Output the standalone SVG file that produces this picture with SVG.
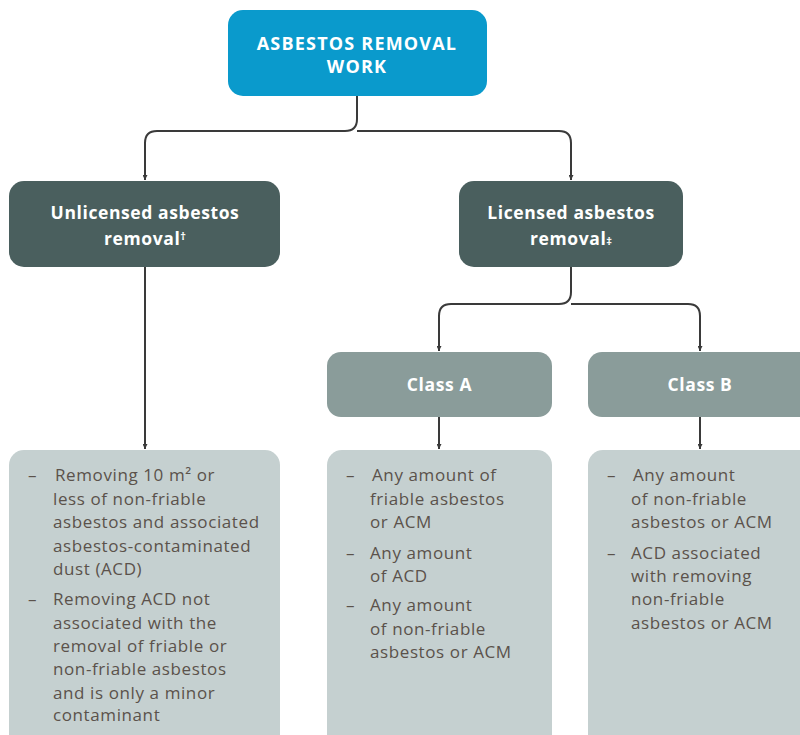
<svg xmlns="http://www.w3.org/2000/svg" width="800" height="735" viewBox="0 0 800 735">
<defs>
<marker id="ah" viewBox="0 0 10 10" refX="10" refY="5" markerWidth="5" markerHeight="5" orient="auto" markerUnits="userSpaceOnUse">
<path d="M0,0 L10,5 L0,10 z" fill="#3a3a3a"/>
</marker>
<style>
.conn{fill:none;stroke:#3a3a3a;stroke-width:2}
.hd{font-family:"Open Sans","Liberation Sans",sans-serif;font-weight:bold;fill:#ffffff;text-anchor:middle}
.top{font-size:18px;letter-spacing:1.2px}
.sub{font-size:17.5px;letter-spacing:0.6px}
.sup{font-size:11px;letter-spacing:0}
.li{font-family:"Open Sans","Liberation Sans",sans-serif;font-size:17px;letter-spacing:0.6px;fill:#5b524b}
</style>
</defs>
<rect width="800" height="735" fill="#ffffff"/>
<g id="connectors">
<path class="conn" d="M357,96 V119 Q357,131 345,131 H157 Q145,131 145,143 V180" marker-end="url(#ah)"/>
<path class="conn" d="M357,131 H559 Q571,131 571,143 V180" marker-end="url(#ah)"/>
<path class="conn" d="M145,267 V449" marker-end="url(#ah)"/>
<path class="conn" d="M571,267 V292 Q571,304 559,304 H451 Q439,304 439,316 V351" marker-end="url(#ah)"/>
<path class="conn" d="M571,304 H688 Q700,304 700,316 V351" marker-end="url(#ah)"/>
<path class="conn" d="M439,417 V449" marker-end="url(#ah)"/>
<path class="conn" d="M700,417 V449" marker-end="url(#ah)"/>
</g>
<g id="root">
<rect x="228" y="10" width="259" height="86" rx="15" fill="#0a9acc"/>
<text class="hd top" x="357" y="50">ASBESTOS REMOVAL</text>
<text class="hd top" x="357" y="73">WORK</text>
</g>
<g id="unlicensed">
<rect x="9" y="181" width="271" height="86" rx="15" fill="#4a5f5e"/>
<text class="hd sub" x="145" y="219">Unlicensed asbestos</text>
<text class="hd sub" x="145" y="245">removal<tspan class="sup" dy="-5">†</tspan></text>
</g>
<g id="licensed">
<rect x="459" y="181" width="224" height="86" rx="15" fill="#4a5f5e"/>
<text class="hd sub" x="571" y="219">Licensed asbestos</text>
<text class="hd sub" x="571" y="245">removal<tspan class="sup">‡</tspan></text>
</g>
<g id="classA">
<rect x="327" y="352" width="225" height="65" rx="14" fill="#8a9c9a"/>
<text class="hd sub" x="439.5" y="391">Class A</text>
</g>
<g id="classB">
<rect x="588" y="352" width="226" height="65" rx="14" fill="#8a9c9a"/>
<text class="hd sub" x="700" y="391">Class B</text>
</g>
<g id="unlicensed-list">
<rect x="9" y="450" width="271" height="300" rx="15" fill="#c5d0d0"/>
<text class="li" x="28" y="481">–</text>
<text class="li" x="55" y="481">Removing 10 m² or</text>
<text class="li" x="53" y="505">less of non-friable</text>
<text class="li" x="53" y="528">asbestos and associated</text>
<text class="li" x="53" y="552">asbestos-contaminated</text>
<text class="li" x="53" y="575">dust (ACD)</text>
<text class="li" x="28" y="605">–</text>
<text class="li" x="53" y="605">Removing ACD not</text>
<text class="li" x="53" y="629">associated with the</text>
<text class="li" x="53" y="652">removal of friable or</text>
<text class="li" x="53" y="675">non-friable asbestos</text>
<text class="li" x="53" y="699">and is only a minor</text>
<text class="li" x="53" y="721">contaminant</text>
</g>
<g id="classA-list">
<rect x="327" y="450" width="225" height="300" rx="15" fill="#c5d0d0"/>
<text class="li" x="346" y="481">–</text>
<text class="li" x="372" y="481">Any amount of</text>
<text class="li" x="370" y="505">friable asbestos</text>
<text class="li" x="370" y="528">or ACM</text>
<text class="li" x="346" y="559">–</text>
<text class="li" x="370" y="559">Any amount</text>
<text class="li" x="370" y="582">of ACD</text>
<text class="li" x="346" y="611">–</text>
<text class="li" x="370" y="611">Any amount</text>
<text class="li" x="370" y="635">of non-friable</text>
<text class="li" x="370" y="658">asbestos or ACM</text>
</g>
<g id="classB-list">
<rect x="588" y="450" width="226" height="300" rx="15" fill="#c5d0d0"/>
<text class="li" x="607" y="481">–</text>
<text class="li" x="633" y="481">Any amount</text>
<text class="li" x="631" y="505">of non-friable</text>
<text class="li" x="631" y="528">asbestos or ACM</text>
<text class="li" x="607" y="559">–</text>
<text class="li" x="631" y="559">ACD associated</text>
<text class="li" x="631" y="582">with removing</text>
<text class="li" x="631" y="605">non-friable</text>
<text class="li" x="631" y="629">asbestos or ACM</text>
</g>
</svg>
